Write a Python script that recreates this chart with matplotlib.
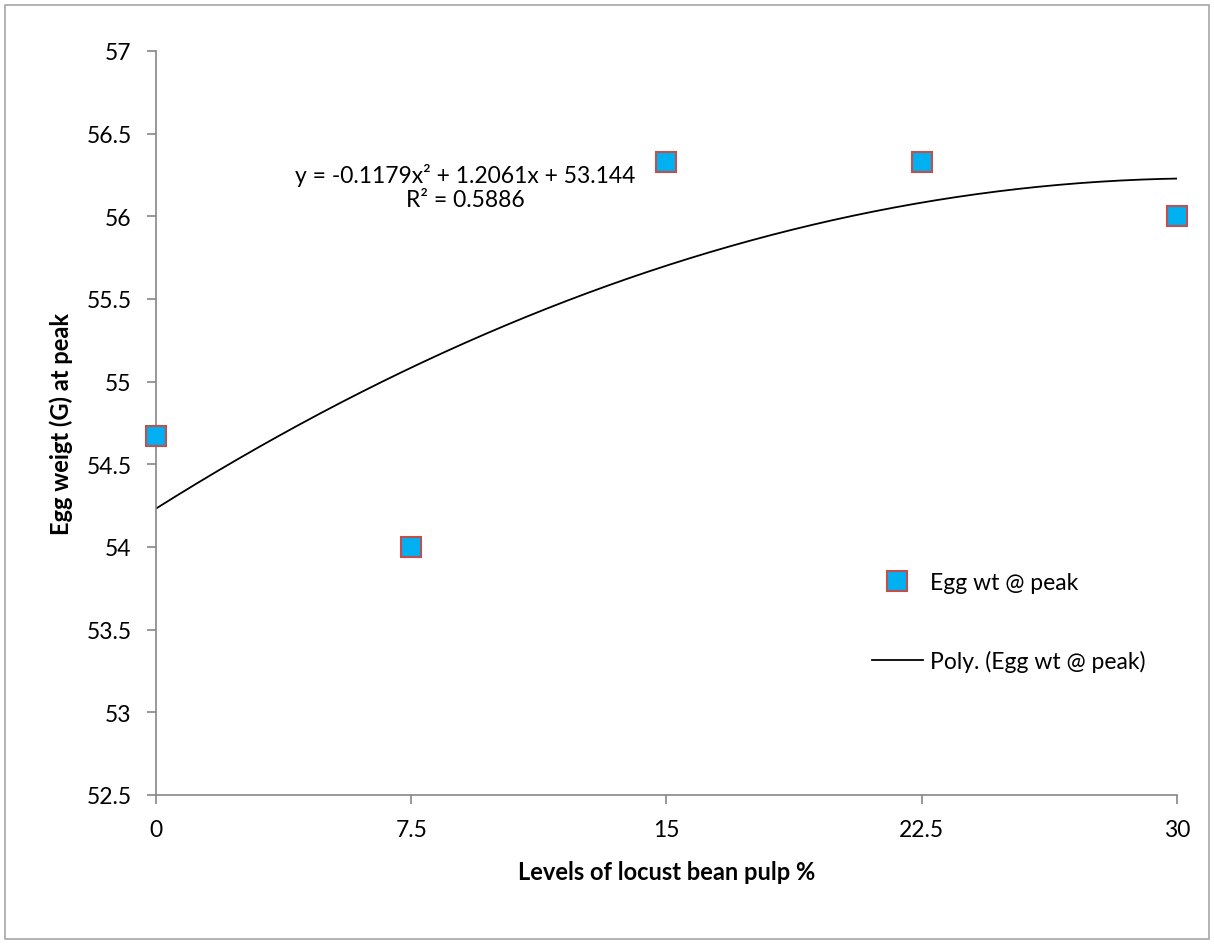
import numpy as np
import matplotlib.pyplot as plt
from matplotlib.patches import Rectangle

plt.rcParams['font.family'] = ['Lato', 'DejaVu Sans']

levels = [0, 7.5, 15, 22.5, 30]
egg_wt = [54.67, 54.0, 56.33, 56.33, 56.0]
xticks = [0, 7.5, 15, 22.5, 30]
yticks = [52.5, 53, 53.5, 54, 54.5, 55, 55.5, 56, 56.5, 57]

fig = plt.figure(figsize=(12.14, 9.45), dpi=100)
ax = fig.add_axes([0.1285, 0.1577, 0.841, 0.7873])
fig.patches.append(Rectangle((0.004, 0.005), 0.992, 0.989, transform=fig.transFigure,
                             fill=False, edgecolor='#a6a6a6', linewidth=1.2))

# excel fits trendline against point index 1..5
idx = np.arange(1, len(levels) + 1)
coef = np.polyfit(idx, egg_wt, 2)
xi = np.linspace(1, len(levels), 200)
xs = np.interp(xi, idx, levels)
ax.plot(xs, np.polyval(coef, xi), color='black', lw=1.3, label='Poly. (Egg wt @ peak)', zorder=2)
ax.plot(levels, egg_wt, 's', ms=14, mfc='#00b0f0', mec='#c0504d', mew=1.5,
        linestyle='none', label='Egg wt @ peak', zorder=3, clip_on=False)

ax.set_xlim(0, 30)
ax.set_ylim(52.5, 57)
ax.set_xticks(xticks)
ax.set_xticklabels(['0', '7.5', '15', '22.5', '30'])
ax.set_yticks(yticks)
ax.set_yticklabels([str(v) for v in yticks])
for s in ['top', 'right']:
    ax.spines[s].set_visible(False)
for s in ['left', 'bottom']:
    ax.spines[s].set_color('#868686')
    ax.spines[s].set_linewidth(1.2)
ax.tick_params(colors='#868686', labelcolor='black', labelsize=16.5, length=6.5, width=1.2)
ax.tick_params(axis='y', pad=11)
ax.tick_params(axis='x', pad=11)

ax.set_xlabel('Levels of locust bean pulp %', fontsize=17, fontweight='bold', labelpad=14)
ax.set_ylabel('Egg weigt (G) at peak', fontsize=17, fontweight='bold', labelpad=10)

ax.text(9.08, 56.18, 'y = -0.1179x² + 1.2061x + 53.144\nR² = 0.5886',
        ha='center', va='center', fontsize=16.5, linespacing=1.2)

h, l = ax.get_legend_handles_labels()
ax.legend([h[1], h[0]], [l[1], l[0]], loc='center left', bbox_to_anchor=(0.701, 0.2325),
          frameon=False, fontsize=16.5, labelspacing=2.45, handlelength=2.25,
          handletextpad=0.3, borderpad=0, borderaxespad=0)

fig.savefig('out.png', dpi=100)
